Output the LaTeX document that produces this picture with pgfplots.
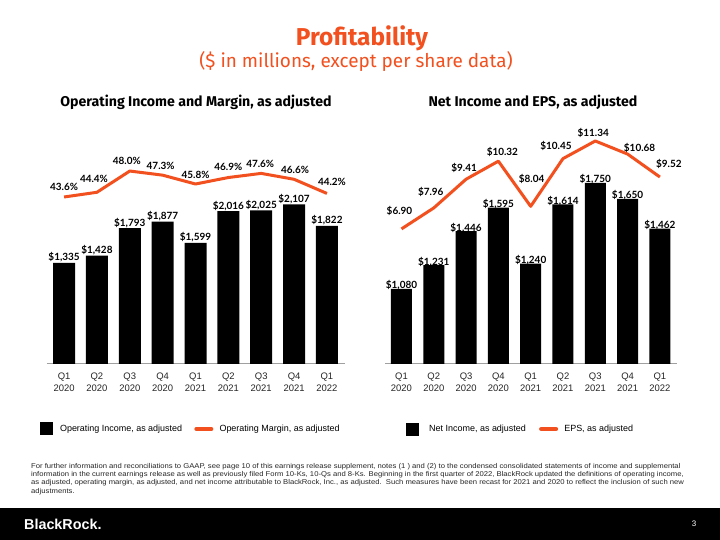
\documentclass[border=0pt]{standalone}
\usepackage{pgfplots}
\pgfplotsset{compat=1.18}
\usepackage{fontspec}
\setmainfont{Liberation Sans}
\newfontfamily\labfont{Lato}
\newfontfamily\headfont{Fira Sans}
\newfontfamily\footfont[FakeStretch=1.1]{Liberation Sans}
\definecolor{brorange}{HTML}{F2501E}
\definecolor{baseline}{HTML}{A0A0A0}

\pgfplotsset{
  panel/.style={
    scale only axis, clip=false,
    /pgf/number format/assume math mode=true,
    major tick length=0pt,
  },
  barpanel/.style={
    panel,
    axis y line=none, axis x line*=bottom,
    x axis line style={draw=baseline, line width=1bp, -},
    xtick={0,...,8},
    xticklabels={{Q1\\2020},{Q2\\2020},{Q3\\2020},{Q4\\2020},{Q1\\2021},{Q2\\2021},{Q3\\2021},{Q4\\2021},{Q1\\2022}},
    xticklabel style={align=center, font=\fontsize{9.5}{12}\selectfont, text=black!85, yshift=-5bp},
    legend style={draw=none, fill=none, inner sep=0pt, legend columns=2,
      font=\fontsize{9}{11}\selectfont, anchor=west},
    legend cell align=left,
  },
  linepanel/.style={panel, hide axis},
  barlabels/.style={
    nodes near coords={\$\pgfmathprintnumber[fixed,precision=0,1000 sep={,}]{\pgfplotspointmeta}},
    every node near coord/.append style={font=\labfont\bfseries\fontsize{10}{12}\selectfont, anchor=base, yshift=#1, text=black},
  },
  boxkey/.style={legend image code/.code={\fill[black] (0bp,-6.5bp) rectangle (13bp,6.5bp); \path (#1,0bp);}},
  linekey/.style={legend image code/.code={\path (-#1,0bp); \draw[brorange, line width=4bp, line cap=round] (2bp,0bp) -- (17bp,0bp); \path (23bp,0bp);}},
}

\begin{document}
\begin{tikzpicture}
\path[use as bounding box, fill=white] (0,0) rectangle (720bp,540bp);

% headings
\node[text=brorange, font=\headfont\bfseries\fontsize{24.5}{28}\selectfont] at (362bp,502bp) {Profitability};
\node[text=brorange, font=\headfont\fontsize{19}{22}\selectfont] at (356bp,478bp) {(\$ in millions, except per share data)};
\node[font=\headfont\bfseries\fontsize{14.2}{17}\selectfont] at (196bp,438bp) {Operating Income and Margin, as adjusted};
\node[font=\headfont\bfseries\fontsize{14.2}{17}\selectfont] at (533bp,438bp) {Net Income and EPS, as adjusted};

% ---------- left panel: operating income (bars) ----------
\begin{axis}[barpanel, at={(47bp,176bp)}, anchor=south west,
  width=298bp, height=224bp, xmin=-0.52, xmax=8.55, ymin=0, ymax=2955,
  legend style={at={(axis description cs:-0.024,-0.29)}}]
\addplot[ybar, bar width=22bp, fill=black, draw=none, barlabels=2bp, boxkey=18bp]
  table[x=q, y=v] {
q v
0 1335
1 1428
2 1793
3 1877
4 1599
5 2016
6 2025
7 2107
8 1822
};
\addlegendentry{Operating Income, as adjusted}
\addlegendimage{linekey=10bp}
\addlegendentry{Operating Margin, as adjusted}
\end{axis}

% ---------- left panel: operating margin (line) ----------
\begin{axis}[linepanel, at={(47bp,176bp)}, anchor=south west,
  width=298bp, height=224bp, xmin=-0.52, xmax=8.55, ymin=15.3, ymax=53.26]
\addplot[brorange, line width=3bp, no marks, line join=round,
  point meta=y,
  visualization depends on={value \thisrow{dx}\as\dx},
  visualization depends on={value \thisrow{dy}\as\dy},
  nodes near coords={\pgfmathprintnumber[fixed,fixed zerofill,precision=1]{\pgfplotspointmeta}\%},
  every node near coord/.append style={font=\labfont\bfseries\fontsize{10}{12}\selectfont, text=black, anchor=center, xshift=\dx bp, yshift=\dy bp}]
  table[x=q, y=m] {
q m dx dy
0 43.6 0 10
1 44.4 -3 13
2 48.0 -3 10
3 47.3 -2 9
4 45.8 0 9
5 46.9 0 11
6 47.6 -1 9
7 46.6 1 9
8 44.2 5 12
};
\end{axis}

% ---------- right panel: net income (bars) ----------
\begin{axis}[barpanel, at={(385bp,176bp)}, anchor=south west,
  width=292bp, height=244bp, xmin=-0.51, xmax=8.53, ymin=606, ymax=2148,
  legend style={at={(axis description cs:0.072,-0.2664)}}]
\addplot[ybar, bar width=21bp, fill=black, draw=none, barlabels=0bp, boxkey=21bp]
  table[x=q, y=v] {
q v
0 1080
1 1231
2 1446
3 1595
4 1240
5 1614
6 1750
7 1650
8 1462
};
\addlegendentry{Net Income, as adjusted}
\addlegendimage{linekey=11bp}
\addlegendentry{EPS, as adjusted}
\end{axis}

% ---------- right panel: EPS (line) ----------
\begin{axis}[linepanel, at={(385bp,176bp)}, anchor=south west,
  width=292bp, height=244bp, xmin=-0.51, xmax=8.53, ymin=0.08, ymax=12.40]
\addplot[brorange, line width=3bp, no marks, line join=round,
  point meta=y,
  visualization depends on={value \thisrow{dx}\as\dx},
  visualization depends on={value \thisrow{dy}\as\dy},
  nodes near coords={\$\pgfmathprintnumber[fixed,fixed zerofill,precision=2]{\pgfplotspointmeta}},
  every node near coord/.append style={font=\labfont\bfseries\fontsize{10}{12}\selectfont, text=black, anchor=center, xshift=\dx bp, yshift=\dy bp}]
  table[x=q, y=e] {
q e dx dy
0 6.90 -2 18
1 7.96 -3 16
2 9.41 -2 11
3 10.32 4 9
4 8.04 1 27
5 10.45 -7 13
6 11.34 -2 8
7 10.68 12 6
8 9.52 9 13
};
\end{axis}

% footnote
\node[anchor=north west, align=left, inner sep=0pt, font=\footfont\fontsize{7}{8.3}\selectfont, text=black!85] at (31bp,77bp)
{For further information and reconciliations to GAAP, see page 10 of this earnings release supplement, notes (1 ) and (2) to the condensed consolidated statements of income and supplemental\\
information in the current earnings release as well as previously filed Form 10-Ks, 10-Qs and 8-Ks. Beginning in the first quarter of 2022, BlackRock updated the definitions of operating income,\\
as adjusted, operating margin, as adjusted, and net income attributable to BlackRock, Inc., as adjusted.\ \ Such measures have been recast for 2021 and 2020 to reflect the inclusion of such new\\
adjustments.};

% footer band
\fill[black] (0,0) rectangle (720bp,32bp);
\node[anchor=west, text=white, font=\bfseries\fontsize{14.4}{17}\selectfont, inner sep=0pt] at (24bp,16bp) {BlackRock.};
\node[text=white, font=\fontsize{8}{10}\selectfont] at (694bp,16bp) {3};
\end{tikzpicture}
\end{document}
